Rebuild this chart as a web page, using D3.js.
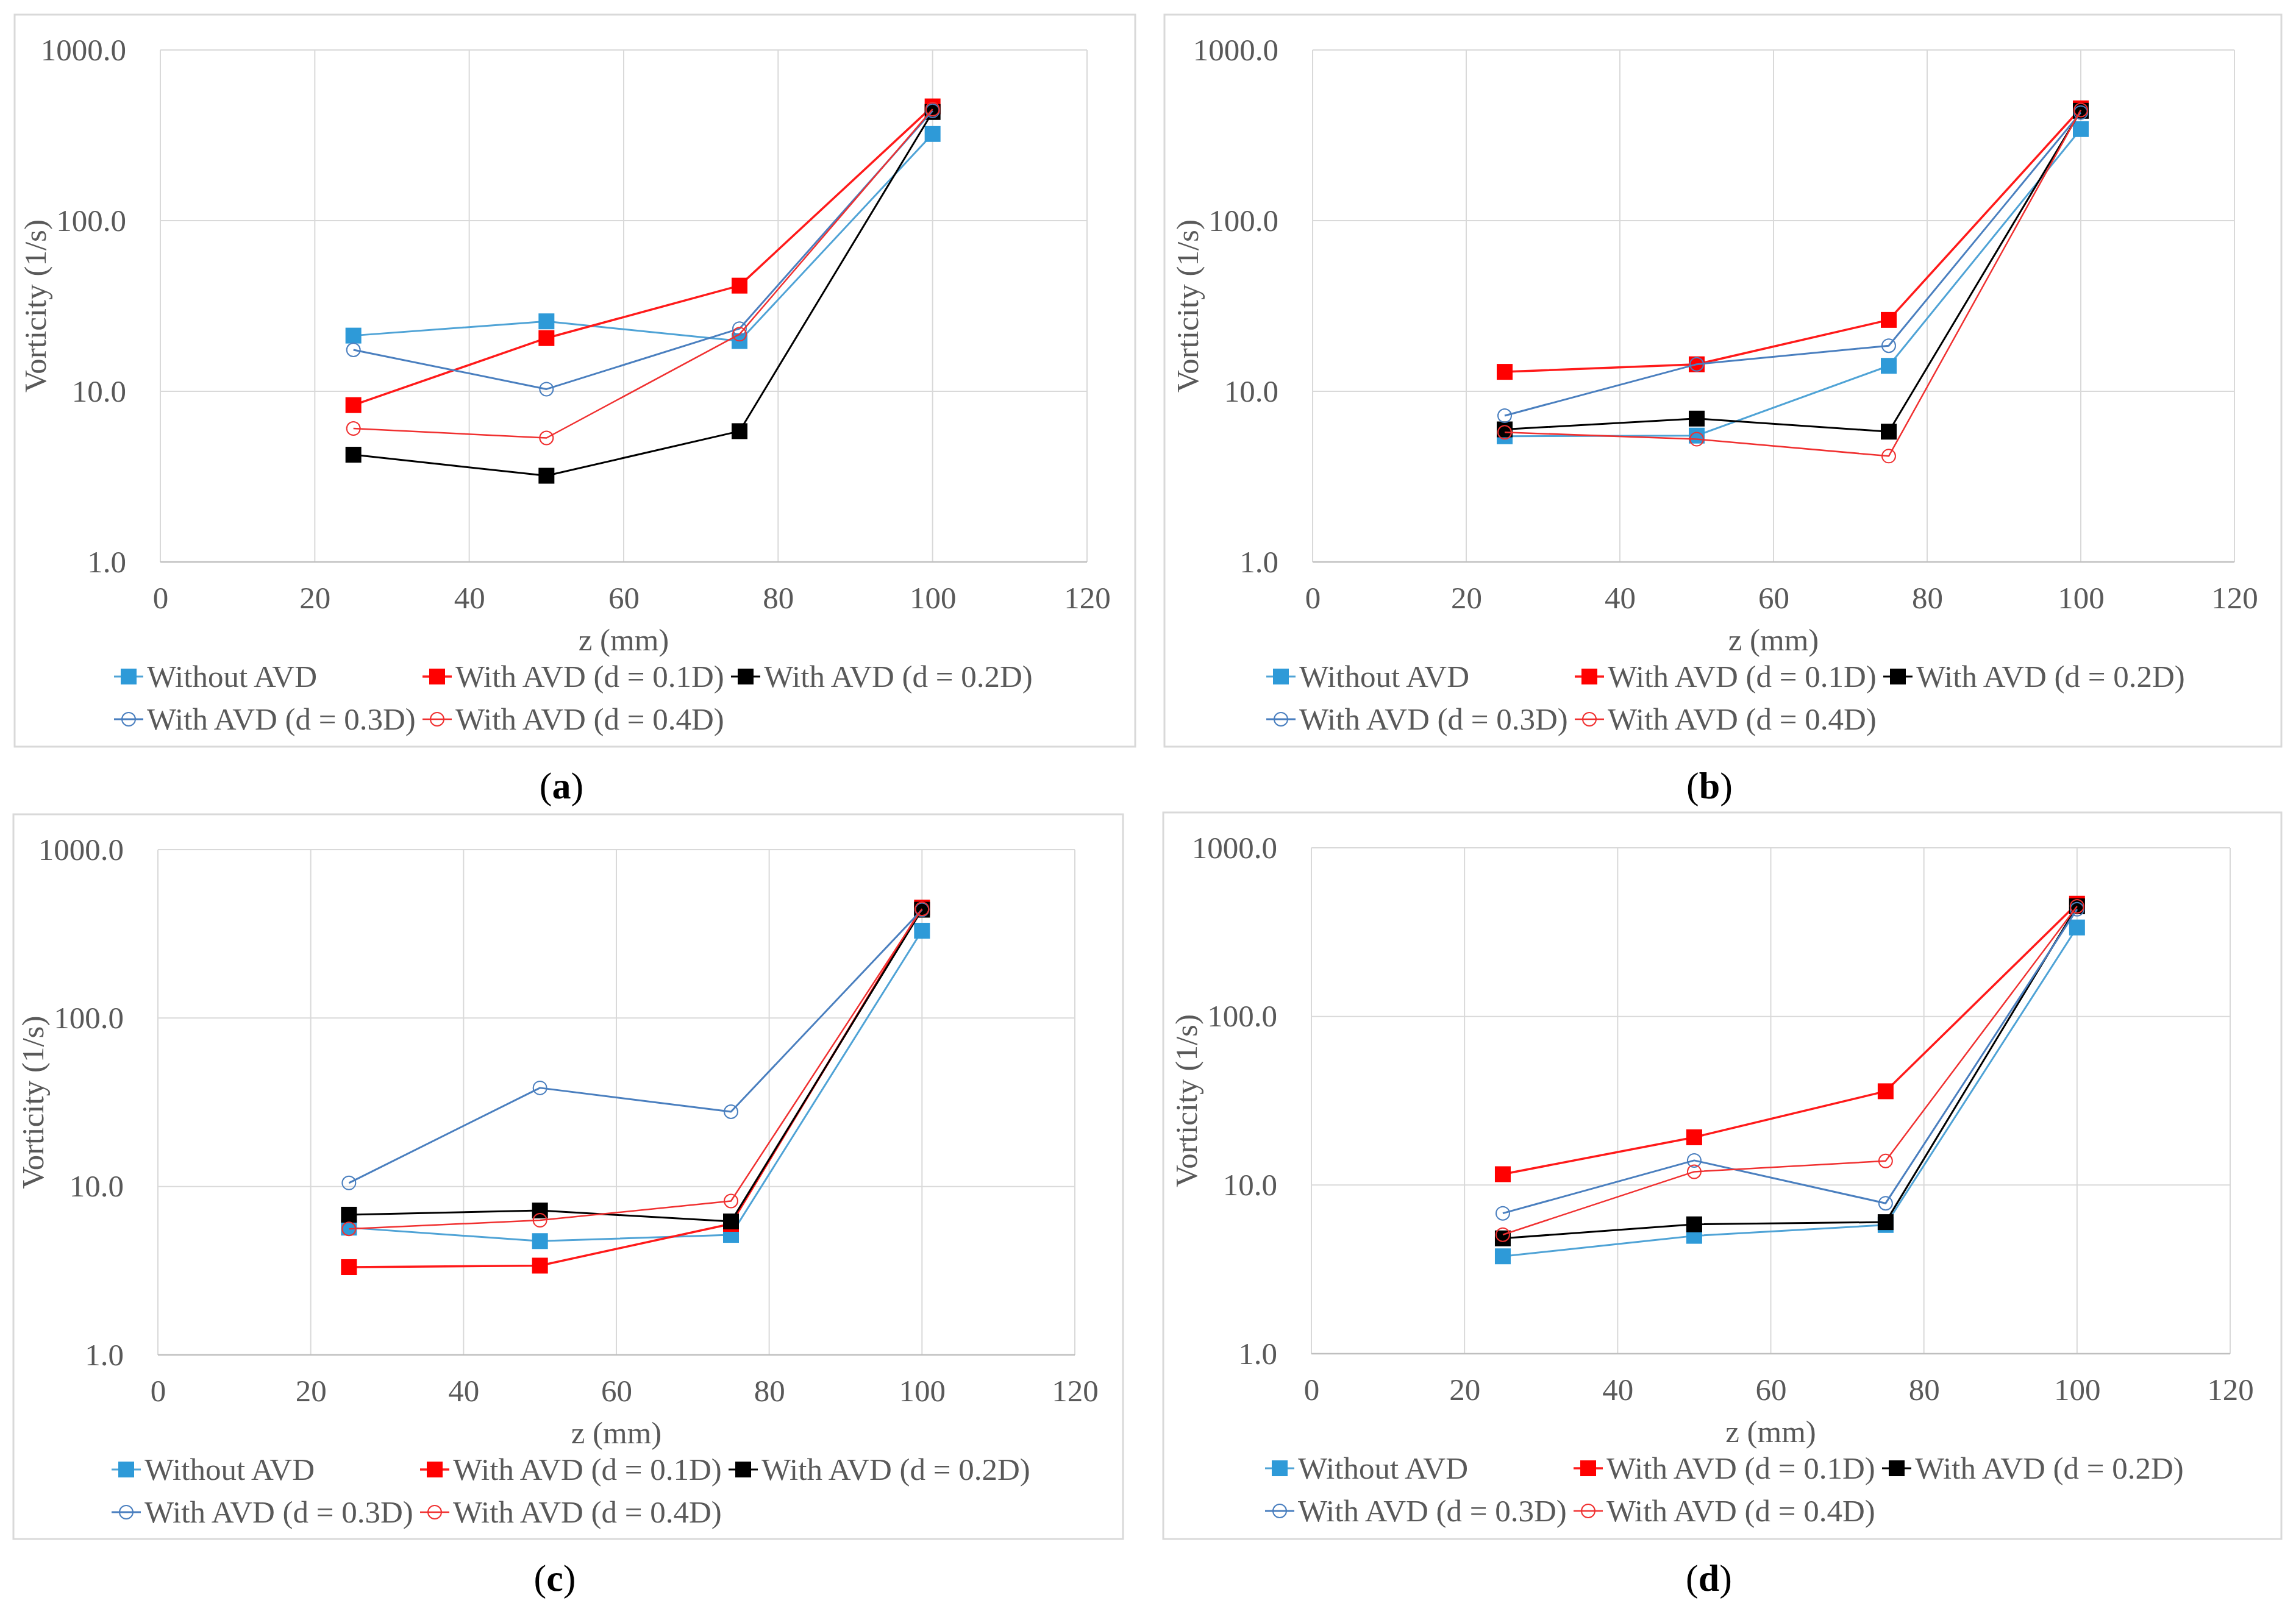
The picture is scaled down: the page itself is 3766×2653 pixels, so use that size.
<!DOCTYPE html>
<html>
<head>
<meta charset="utf-8">
<script src="https://cdn.jsdelivr.net/npm/d3@7"></script>
<style>
  body { margin: 0; background: #fff; }
  text { font-family: "Liberation Serif", "Times New Roman", serif; }
</style>
</head>
<body>
<div id="chart"></div>
<script>
// data (vorticity in 1/s at each z position)
const zValues = [25, 50, 75, 100];
const seriesNames = ["Without AVD", "With AVD (d = 0.1D)", "With AVD (d = 0.2D)",
                     "With AVD (d = 0.3D)", "With AVD (d = 0.4D)"];
const xTicks = [0, 20, 40, 60, 80, 100, 120];
const yTicks = [1, 10, 100, 1000];

// rows follow seriesNames
const valuesA = [
    [21.2, 25.7, 19.7, 322],
    [8.3, 20.5, 41.6, 467],
    [4.25, 3.2, 5.84, 433],
    [17.5, 10.3, 23.3, 440],
    [6.05, 5.33, 21.6, 450]
];
const valuesB = [
    [5.45, 5.5, 14.1, 344],
    [13.0, 14.4, 26.2, 455],
    [5.98, 6.92, 5.8, 440],
    [7.2, 14.4, 18.5, 430],
    [5.75, 5.24, 4.17, 445]
];
const valuesC = [
    [5.7, 4.74, 5.16, 330],
    [3.32, 3.39, 6.0, 453],
    [6.8, 7.2, 6.2, 440],
    [10.5, 38.5, 27.8, 440],
    [5.6, 6.3, 8.2, 445]
];
const valuesD = [
    [3.78, 5.0, 5.8, 337],
    [11.6, 19.2, 36, 466],
    [4.83, 5.85, 6.03, 450],
    [6.8, 14.0, 7.8, 432],
    [5.08, 12.0, 13.9, 450]
];
const panelLabels = ["a", "b", "c", "d"];

// styles per series
const styles = [
    {fill: "#2e9ad8", line: "#4fa3d6", marker: "square", lw: 3},
    {fill: "#ff0000", line: "#ff1a1a", marker: "square", lw: 3.5},
    {fill: "#000000", line: "#000000", marker: "square", lw: 3},
    {fill: "none",    line: "#4a7fbf", marker: "circle", lw: 3},
    {fill: "none",    line: "#f03030", marker: "circle", lw: 2.5}
];

// panel geometry: frame box and plot box [x0, y0, x1, y1]
const panels = [
    {values: valuesA, frame: [24, 24, 1862, 1225],   plot: [263, 82, 1783, 922]},
    {values: valuesB, frame: [1910, 24, 3742, 1225], plot: [2153, 82, 3665, 922]},
    {values: valuesC, frame: [22, 1336, 1842, 2525], plot: [259, 1394, 1763, 2223]},
    {values: valuesD, frame: [1908, 1333, 3742, 2525], plot: [2151, 1391, 3658, 2221]}
];

const W = 3766, H = 2653;
const textColor = "#595959";
const fs = 51;
const sq = 26, rCircle = 11;

const svg = d3.select("#chart").append("svg")
    .attr("width", W)
    .attr("height", H);

svg.append("rect").attr("width", W).attr("height", H).attr("fill", "#fff");

function drawMarker(g, type, st, cx, cy) {
    if (type === "square") {
        g.append("rect")
            .attr("x", cx - sq / 2).attr("y", cy - sq / 2)
            .attr("width", sq).attr("height", sq)
            .attr("fill", st.fill);
    } else {
        g.append("circle")
            .attr("cx", cx).attr("cy", cy).attr("r", rCircle)
            .attr("fill", "none")
            .attr("stroke", st.line)
            .attr("stroke-width", 2);
    }
}

panels.forEach(function(p, pi) {
    let [fx0, fy0, fx1, fy1] = p.frame;
    let [px0, py0, px1, py1] = p.plot;

    let g = svg.append("g");

    // chart area border
    g.append("rect")
        .attr("x", fx0).attr("y", fy0)
        .attr("width", fx1 - fx0).attr("height", fy1 - fy0)
        .attr("fill", "#fff")
        .attr("stroke", "#d9d9d9")
        .attr("stroke-width", 3);

    let x = d3.scaleLinear().domain([0, 120]).range([px0, px1]);
    let y = d3.scaleLog().domain([1, 1000]).range([py1, py0]);

    // gridlines
    g.append("g").selectAll("line.v")
        .data(xTicks)
        .enter().append("line")
        .attr("x1", d => x(d)).attr("x2", d => x(d))
        .attr("y1", py0).attr("y2", py1)
        .attr("stroke", "#d9d9d9").attr("stroke-width", 2);

    g.append("g").selectAll("line.h")
        .data(yTicks)
        .enter().append("line")
        .attr("x1", px0).attr("x2", px1)
        .attr("y1", d => y(d)).attr("y2", d => y(d))
        .attr("stroke", "#d9d9d9").attr("stroke-width", 2);

    // bottom axis line
    g.append("line")
        .attr("x1", px0).attr("x2", px1)
        .attr("y1", py1).attr("y2", py1)
        .attr("stroke", "#bfbfbf").attr("stroke-width", 2.5);

    // x axis (labels only)
    let xAxis = d3.axisBottom(x).tickValues(xTicks).tickSize(0).tickPadding(0);
    let gx = g.append("g")
        .attr("transform", `translate(0, ${py1 + 40})`)
        .call(xAxis);
    gx.select(".domain").remove();
    gx.selectAll("text")
        .attr("fill", textColor)
        .style("font-size", fs + "px")
        .style("font-family", "Liberation Serif")
        .attr("dy", "0.71em");

    // y axis (labels only)
    let yAxis = d3.axisLeft(y).tickValues(yTicks).tickFormat(d3.format(".1f")).tickSize(0).tickPadding(0);
    let gy = g.append("g")
        .attr("transform", `translate(${px0 - 56}, 0)`)
        .call(yAxis);
    gy.select(".domain").remove();
    gy.selectAll("text")
        .attr("fill", textColor)
        .style("font-size", fs + "px")
        .style("font-family", "Liberation Serif");

    // axis titles
    g.append("text")
        .attr("x", (px0 + px1) / 2)
        .attr("y", py1 + 128)
        .attr("text-anchor", "middle")
        .attr("dominant-baseline", "central")
        .attr("fill", textColor)
        .style("font-size", fs + "px")
        .text("z (mm)");

    g.append("text")
        .attr("transform", `translate(${px0 - 205}, ${(py0 + py1) / 2}) rotate(-90)`)
        .attr("text-anchor", "middle")
        .attr("dominant-baseline", "central")
        .attr("fill", textColor)
        .style("font-size", fs + "px")
        .text("Vorticity (1/s)");

    // series lines and markers
    let line = d3.line()
        .x((d, i) => x(zValues[i]))
        .y(d => y(d));

    p.values.forEach(function(vals, si) {
        let st = styles[si];
        let sg = g.append("g");
        sg.append("path")
            .datum(vals)
            .attr("d", line)
            .attr("fill", "none")
            .attr("stroke", st.line)
            .attr("stroke-width", st.lw)
            .attr("stroke-linejoin", "round");
        vals.forEach(function(v, i) {
            drawMarker(sg, st.marker, st, x(zValues[i]), y(v));
        });
    });

    // legend: 3 columns, 2 rows
    let colW = 506;
    seriesNames.forEach(function(name, si) {
        let col = si % 3, row = Math.floor(si / 3);
        let mx = px0 - 52 + col * colW;
        let my = py1 + 188 + row * 70;
        let st = styles[si];
        let lg = g.append("g");
        lg.append("line")
            .attr("x1", mx - 24).attr("x2", mx + 24)
            .attr("y1", my).attr("y2", my)
            .attr("stroke", st.line).attr("stroke-width", st.lw);
        drawMarker(lg, st.marker, st, mx, my);
        lg.append("text")
            .attr("x", mx + 30)
            .attr("y", my)
            .attr("dominant-baseline", "central")
            .attr("fill", textColor)
            .style("font-size", fs + "px")
            .text(name);
    });

    // panel label (a), (b) ...
    let lab = svg.append("text")
        .attr("x", (fx0 + fx1) / 2 - 22)
        .attr("y", fy1 + 64)
        .attr("text-anchor", "middle")
        .attr("dominant-baseline", "central")
        .attr("fill", "#000")
        .style("font-size", "62px");
    lab.append("tspan").text("(");
    lab.append("tspan").attr("font-weight", "bold").text(panelLabels[pi]);
    lab.append("tspan").text(")");
});
</script>
</body>
</html>
